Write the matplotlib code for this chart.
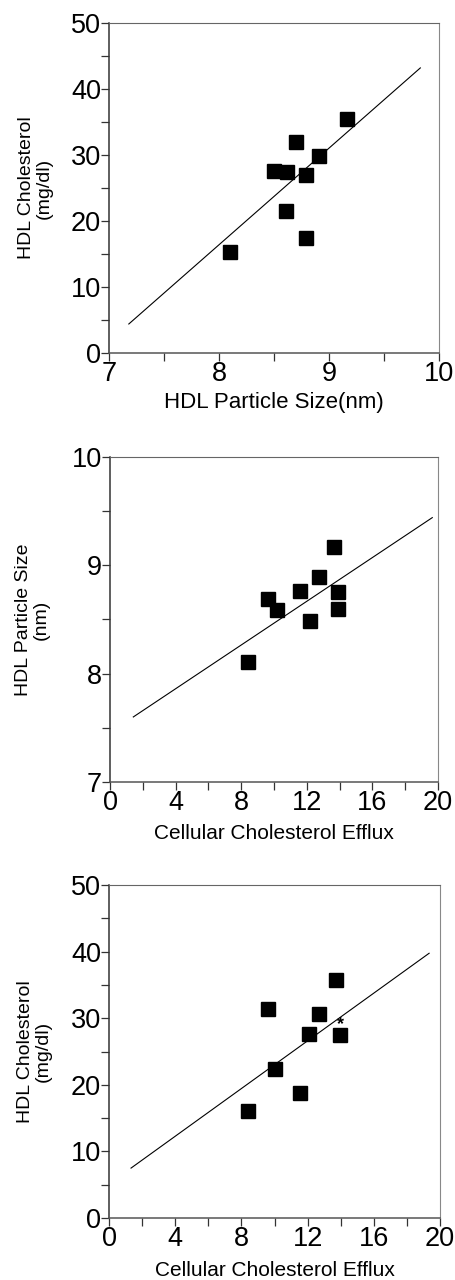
import numpy as np
import matplotlib
matplotlib.use('Agg')
import matplotlib.pyplot as plt

plt.rcParams['font.family'] = ['Liberation Sans', 'DejaVu Sans']

# panel A: HDL particle size vs HDL cholesterol
size_a = [8.10, 8.50, 8.62, 8.61, 8.70, 8.79, 8.79, 8.91, 9.16]
chol_a = [15.3, 27.6, 27.5, 21.5, 32.0, 26.9, 17.5, 29.9, 35.5]
fit_a_x = [7.18, 9.83]
fit_a_y = [4.4, 43.2]

# panel B: efflux vs HDL particle size
efflux_b = [8.39, 9.64, 10.19, 11.57, 12.18, 12.75, 13.66, 13.91, 13.91]
size_b = [8.11, 8.69, 8.59, 8.76, 8.49, 8.89, 9.17, 8.75, 8.60]
fit_b_x = [1.42, 19.65]
fit_b_y = [7.60, 9.44]

# panel C: efflux vs HDL cholesterol
efflux_c = [8.38, 9.61, 10.03, 11.54, 12.10, 12.69, 13.70, 13.96]
chol_c = [16.1, 31.4, 22.4, 18.8, 27.6, 30.6, 35.8, 27.5]
fit_c_x = [1.33, 19.34]
fit_c_y = [7.5, 39.75]
star_c = (13.96, 29.0)

fig = plt.figure(figsize=(4.55, 12.8), dpi=100)

def style_axes(ax, xlim, ylim, xmaj, xmin, ymaj, ymin):
	ax.set_xlim(xlim)
	ax.set_ylim(ylim)
	ax.set_xticks(xmaj)
	ax.set_xticks(xmin, minor=True)
	ax.set_yticks(ymaj)
	ax.set_yticks(ymin, minor=True)
	ax.spines['left'].set_color('#333333')
	ax.spines['bottom'].set_color('#555555')
	ax.spines['top'].set_color('#666666')
	ax.spines['right'].set_color('#888888')
	for s in ['left', 'bottom']:
		ax.spines[s].set_linewidth(1.1)
	for s in ['top', 'right']:
		ax.spines[s].set_linewidth(0.8)
	ax.tick_params(which='both', direction='out', length=5.8, width=0.9, color='#333333')
	ax.tick_params(axis='x', which='major', labelsize=19.5, pad=0.2)
	ax.tick_params(axis='y', which='major', labelsize=19.5, pad=0)

# top
ax1 = fig.add_axes([0.2396, 0.7242, 0.7253, 0.2578])
ax1.plot(fit_a_x, fit_a_y, color='black', lw=0.8)
ax1.plot(size_a, chol_a, 's', color='black', ms=9.5)
style_axes(ax1, (7, 10), (0, 50), [7, 8, 9, 10], [7.5, 8.5, 9.5],
	[0, 10, 20, 30, 40, 50], [5, 15, 25, 35, 45])
ax1.set_xlabel('HDL Particle Size(nm)', fontsize=16, va='top')
ax1.xaxis.set_label_coords(0.5, -0.118)
ax1.set_ylabel('HDL Cholesterol\n(mg/dl)', fontsize=14, linespacing=1.1)
ax1.yaxis.set_label_coords(-0.17, 0.5)

# middle
ax2 = fig.add_axes([0.2418, 0.3891, 0.7209, 0.2539])
ax2.plot(fit_b_x, fit_b_y, color='black', lw=0.8)
ax2.plot(efflux_b, size_b, 's', color='black', ms=9.5)
style_axes(ax2, (0, 20), (7, 10), [0, 4, 8, 12, 16, 20], [2, 6, 10, 14, 18],
	[7, 8, 9, 10], [7.5, 8.5, 9.5])
ax2.set_xlabel('Cellular Cholesterol Efflux', fontsize=15, va='top')
ax2.xaxis.set_label_coords(0.5, -0.128)
ax2.set_ylabel('HDL Particle Size\n(nm)', fontsize=14, linespacing=1.1)
ax2.yaxis.set_label_coords(-0.183, 0.5)

# bottom
ax3 = fig.add_axes([0.2396, 0.0484, 0.7275, 0.2602])
ax3.plot(fit_c_x, fit_c_y, color='black', lw=0.8)
ax3.plot(efflux_c, chol_c, 's', color='black', ms=9.5)
ax3.text(star_c[0], star_c[1], '*', fontsize=13, ha='center', va='center', fontweight='bold')
style_axes(ax3, (0, 20), (0, 50), [0, 4, 8, 12, 16, 20], [2, 6, 10, 14, 18],
	[0, 10, 20, 30, 40, 50], [5, 15, 25, 35, 45])
ax3.set_xlabel('Cellular Cholesterol Efflux', fontsize=15, va='top')
ax3.xaxis.set_label_coords(0.5, -0.13)
ax3.set_ylabel('HDL Cholesterol\n(mg/dl)', fontsize=14, linespacing=1.1)
ax3.yaxis.set_label_coords(-0.172, 0.5)

fig.savefig('out.png', dpi=100)
